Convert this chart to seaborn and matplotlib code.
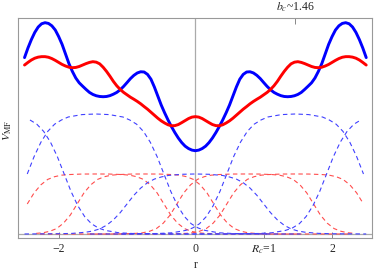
import numpy as np
import pandas as pd
import seaborn as sns
from matplotlib import pyplot as plt

sns.set_style("white")
plt.rcParams["font.family"] = ["Liberation Serif", "DejaVu Serif"]
plt.rcParams["mathtext.fontset"] = "stix"

# sample positions of the two mean-field curves (step 0.05)
r_grid = np.round(np.linspace(-2.5, 2.5, 101), 2)

blue_mf = [1.47, 1.55, 1.62, 1.68, 1.725, 1.752, 1.761, 1.755, 1.735, 1.70, 1.645, 1.58, 1.50,
           1.42, 1.355, 1.30, 1.26, 1.232, 1.205, 1.18, 1.163, 1.152, 1.146, 1.144, 1.146,
           1.153, 1.165, 1.18, 1.202, 1.23, 1.262, 1.295, 1.322, 1.342, 1.352, 1.35, 1.33,
           1.29, 1.225, 1.15, 1.075, 1.01, 0.95, 0.895, 0.845, 0.80, 0.762, 0.732, 0.712,
           0.699, 0.694,
           0.699, 0.712, 0.732, 0.762, 0.80, 0.845, 0.895, 0.95, 1.01, 1.075, 1.15, 1.225,
           1.29, 1.33, 1.35, 1.352, 1.342, 1.322, 1.295, 1.262, 1.23, 1.202, 1.18, 1.165,
           1.153, 1.146, 1.144, 1.146, 1.152, 1.163, 1.18, 1.205, 1.232, 1.26, 1.30, 1.355,
           1.42, 1.50, 1.58, 1.645, 1.70, 1.735, 1.755, 1.761, 1.752, 1.725, 1.68, 1.62,
           1.55, 1.47]

red_mf = [1.408, 1.43, 1.45, 1.465, 1.474, 1.478, 1.478, 1.473, 1.462, 1.447, 1.43, 1.413,
          1.40, 1.39, 1.386, 1.388, 1.396, 1.408, 1.42, 1.43, 1.436, 1.432, 1.418, 1.39,
          1.355, 1.315, 1.272, 1.235, 1.205, 1.18, 1.16, 1.14, 1.123, 1.105, 1.085, 1.062,
          1.04, 1.015, 0.99, 0.965, 0.943, 0.925, 0.91, 0.902, 0.903, 0.912, 0.928, 0.945,
          0.962, 0.974, 0.978,
          0.974, 0.962, 0.945, 0.928, 0.912, 0.903, 0.902, 0.91, 0.925, 0.943, 0.965, 0.99,
          1.015, 1.04, 1.062, 1.085, 1.105, 1.123, 1.14, 1.16, 1.18, 1.205, 1.235, 1.272,
          1.315, 1.355, 1.39, 1.418, 1.432, 1.436, 1.43, 1.42, 1.408, 1.396, 1.388, 1.386,
          1.39, 1.40, 1.413, 1.43, 1.447, 1.462, 1.473, 1.478, 1.478, 1.474, 1.465, 1.45,
          1.43, 1.408]

# single-centre shapes (distance from centre -> fraction of height)
profile_d = [0, 0.2, 0.4, 0.5, 0.6, 0.7, 0.8, 0.9, 1.0, 1.1, 1.2, 1.3, 1.4, 1.5, 1.6, 1.8, 2.0, 2.5, 3.0, 4.0]
blue_profile = [1.0, 0.995, 0.975, 0.95, 0.915, 0.855, 0.765, 0.645, 0.5, 0.355, 0.235, 0.145,
                0.085, 0.05, 0.03, 0.01, 0.004, 0.0, 0.0, 0.0]
red_profile = [1.0, 0.999, 0.99, 0.98, 0.955, 0.91, 0.82, 0.685, 0.5, 0.315, 0.18, 0.09,
               0.045, 0.02, 0.01, 0.003, 0.0, 0.0, 0.0, 0.0]

blue_centres = [-2.92, -1.46, 0.0, 1.46, 2.92]
blue_heights = [1.0, 1.0, 0.5, 1.0, 1.0]
red_centres = [-1.46, -0.73, 0.73, 1.46]
red_heights = [0.5, 0.5, 0.5, 0.5]

bottom_ticks = [-2, 0, 1, 2]
bottom_labels = ["\u22122", "0", r"$R_c$=1", "2"]
top_ticks = [1.46]
top_labels = [r"$b_c$~1.46"]


def shape_frame(centre, height, profile):
  d = np.array(profile_d)
  p = np.array(profile)
  x = np.concatenate([centre - d[::-1], centre + d[1:]])
  y = height * np.concatenate([p[::-1], p[1:]])
  df = pd.DataFrame({"r": x, "V": y})
  return df[(df["r"] >= -2.5) & (df["r"] <= 2.5)]


fig = plt.figure(figsize=(3.74, 2.74), dpi=100)
ax = fig.add_axes([0.0473, 0.1325, 0.9465, 0.80])

ax.axvline(0, color="#aaaaaa", lw=0.9, zorder=1)
ax.axhline(0, color="#aaaaaa", lw=0.9, zorder=1)

for c, h in zip(red_centres, red_heights):
  sns.lineplot(data=shape_frame(c, h, red_profile), x="r", y="V", ax=ax, sort=False,
               estimator=None, color="#ff4d4d", lw=0.8, linestyle=(0, (4, 3)), zorder=2)
for c, h in zip(blue_centres, blue_heights):
  sns.lineplot(data=shape_frame(c, h, blue_profile), x="r", y="V", ax=ax, sort=False,
               estimator=None, color="#4040ff", lw=0.8, linestyle=(0, (4, 3)), zorder=2)

sns.lineplot(x=r_grid, y=blue_mf, ax=ax, color="#0000ff", lw=2.1, zorder=3,
             solid_joinstyle="round", solid_capstyle="round")
sns.lineplot(x=r_grid, y=red_mf, ax=ax, color="#ff0000", lw=2.1, zorder=4,
             solid_joinstyle="round", solid_capstyle="round")

ax.set_xlim(-2.6, 2.58)
ax.set_ylim(-0.031, 1.796)
ax.set_xlabel(None)
ax.set_ylabel(None)
ax.set_yticks([])
ax.set_xticks(bottom_ticks, labels=bottom_labels)
ax.tick_params(axis="x", direction="in", length=4, width=0.7, color="#888888",
               pad=3.5, labelsize=8.5, bottom=True)

top = ax.secondary_xaxis("top")
top.set_xticks(top_ticks, labels=top_labels)
top.tick_params(direction="in", length=4, width=0.7, color="#888888", pad=3.5, labelsize=8.5)
top.spines["top"].set_visible(False)

for sp in ax.spines.values():
  sp.set_color("#999999")
  sp.set_linewidth(0.8)

fig.text(195.5 / 374, 1 - 265 / 274, "r", ha="center", va="center", fontsize=8.5)
fig.text(8 / 374, 1 - 130 / 274, r"$V_{\rm MF}$", ha="center", va="center",
         rotation=90, fontsize=8.5)

fig.savefig("out.png", dpi=100)
